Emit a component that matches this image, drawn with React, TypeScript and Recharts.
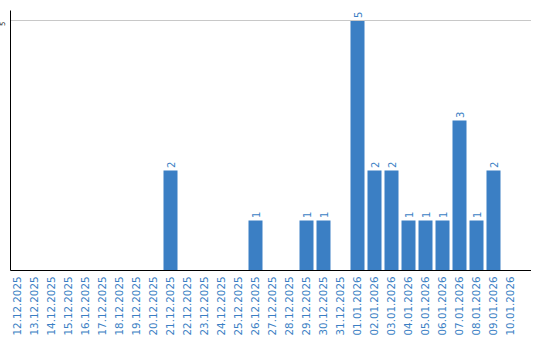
import React from "react";
import { BarChart, Bar, XAxis, YAxis, ReferenceLine, LabelList } from "recharts";

const dates = [
  "12.12.2025", "13.12.2025", "14.12.2025", "15.12.2025", "16.12.2025",
  "17.12.2025", "18.12.2025", "19.12.2025", "20.12.2025", "21.12.2025",
  "22.12.2025", "23.12.2025", "24.12.2025", "25.12.2025", "26.12.2025",
  "27.12.2025", "28.12.2025", "29.12.2025", "30.12.2025", "31.12.2025",
  "01.01.2026", "02.01.2026", "03.01.2026", "04.01.2026", "05.01.2026",
  "06.01.2026", "07.01.2026", "08.01.2026", "09.01.2026", "10.01.2026",
];
const counts = [
  0, 0, 0, 0, 0, 0, 0, 0, 0, 2,
  0, 0, 0, 0, 1, 0, 0, 1, 1, 0,
  5, 2, 2, 1, 1, 1, 3, 1, 2, 0,
];
const yTicks = [5];

const data = dates.map((date, i) => ({ date, count: counts[i] }));

const BLUE = "#3b7fc4";
const FONT = "DejaVu Sans";

function XTick({ x, y, payload }: any) {
  return (
    <text
      x={x}
      y={y}
      dy="0.36em"
      transform={`rotate(-90 ${x} ${y})`}
      textAnchor="end"
      fill={BLUE}
      fontSize={10.3}
      fontFamily={FONT}
    >
      {payload.value}
    </text>
  );
}

function YTick({ y, payload }: any) {
  return (
    <text
      x={5}
      y={y + 1}
      transform={`rotate(-90 5 ${y + 1})`}
      textAnchor="end"
      fill="#222"
      fontSize={7}
      fontFamily={FONT}
    >
      {payload.value}
    </text>
  );
}

function ValueLabel({ x, y, width, value }: any) {
  if (!value) return null;
  const cx = x + width / 2 + 4;
  const cy = y - 2.5;
  return (
    <text
      x={cx}
      y={cy}
      transform={`rotate(-90 ${cx} ${cy})`}
      textAnchor="start"
      fill={BLUE}
      fontSize={10}
      fontFamily={FONT}
    >
      {value}
    </text>
  );
}

export default function App() {
  return (
    <div style={{ position: "absolute", left: 0, top: 0, background: "#fff" }}>
      <BarChart
        width={540}
        height={340}
        data={data}
        margin={{ top: 10.5, right: 9, bottom: 0, left: 0.5 }}
      >
        <XAxis
          dataKey="date"
          interval={0}
          height={69.5}
          tickLine={false}
          tickSize={0}
          tickMargin={6}
          padding={{ left: -2, right: 12.5 }}
          axisLine={{ stroke: "#000" }}
          tick={<XTick />}
        />
        <YAxis
          width={10}
          domain={[0, 5.2]}
          ticks={yTicks}
          tickLine={false}
          axisLine={{ stroke: "#000" }}
          tick={<YTick />}
        />
        <ReferenceLine y={5} stroke="#c8c8c8" />
        <Bar dataKey="count" fill={BLUE} barSize={14} isAnimationActive={false}>
          <LabelList dataKey="count" content={<ValueLabel />} />
        </Bar>
      </BarChart>
    </div>
  );
}
